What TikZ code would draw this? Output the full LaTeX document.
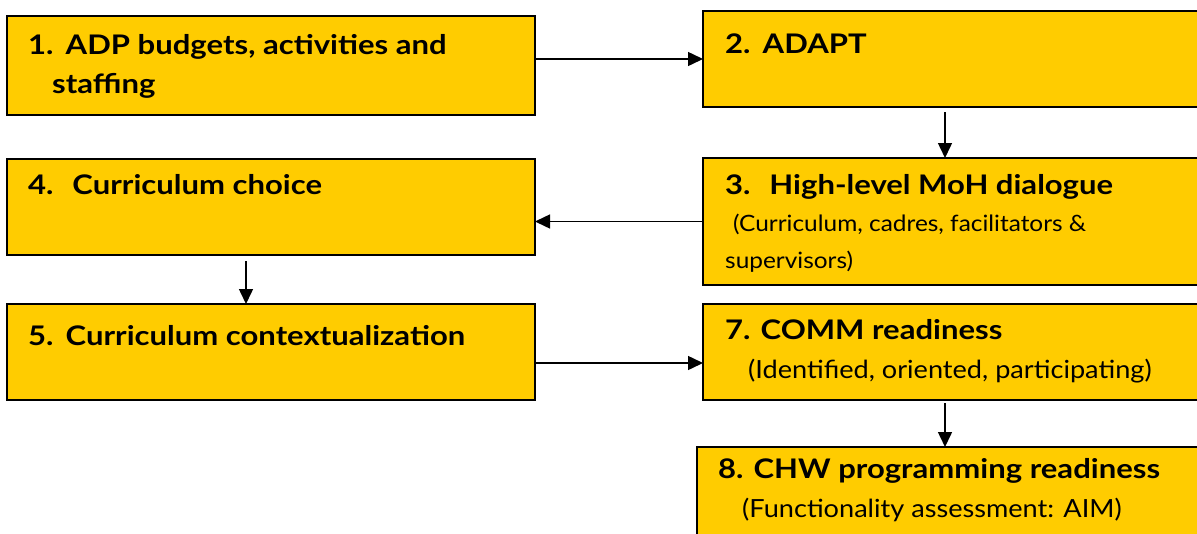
\documentclass[tikz,border=0pt]{standalone}
\usepackage{fontspec}
\setmainfont{Lato}[UprightFeatures={FakeStretch=1.085}, BoldFeatures={FakeStretch=1.15}]
\usetikzlibrary{arrows.meta}
\definecolor{boxyellow}{HTML}{FFCC00}
\tikzset{
  x=1pt, y=-1pt,
  box/.style={draw=black, line width=2pt, fill=boxyellow, inner sep=0pt, outer sep=0pt, anchor=north west},
  label/.style={anchor=base west, inner sep=0pt, font=\fontsize{25}{30}\selectfont},
  smalllabel/.style={label, font=\fontsize{22.5}{27}\selectfont},
  boldlabel/.style={label, font=\fontsize{27}{32}\selectfont\bfseries},
  arr/.style={-{Triangle[length=15pt,width=14pt]}, line width=1.5pt},
}
\begin{document}
\begin{tikzpicture}
\useasboundingbox[fill=white] (0,0) rectangle (1197,533);

% left column
\node[box, minimum width=528pt, minimum height=99pt] (b1) at (7,16) {};
\node[box, minimum width=528pt, minimum height=96pt] (b4) at (7,159) {};
\node[box, minimum width=528pt, minimum height=96pt] (b5) at (7,304) {};

% right column (runs past the right edge)
\node[box, minimum width=510pt, minimum height=96pt] (b2) at (703,11) {};
\node[box, minimum width=510pt, minimum height=127pt] (b3) at (703,158) {};
\node[box, minimum width=510pt, minimum height=96pt] (b7) at (703,304) {};
\node[box, minimum width=516pt, minimum height=100pt] (b8) at (697,447) {};

% texts
\node[boldlabel] (t1a) at (28,54) {1.\hspace{0.45em}ADP budgets, activities and};
\node[boldlabel] (t1b) at (52,93) {staffing};
\node[boldlabel] (t2) at (725,53) {2.\hspace{0.45em}ADAPT};
\node[boldlabel] (t3a) at (725,194) {3.\hspace{0.7em}High-level MoH dialogue};
\node[smalllabel] (t3b) at (733,231) {(Curriculum, cadres, facilitators \&};
\node[smalllabel] (t3c) at (725,268) {supervisors)};
\node[boldlabel] (t4) at (28,194) {4.\hspace{0.7em}Curriculum choice};
\node[boldlabel] (t5) at (28,345) {5.\hspace{0.45em}Curriculum contextualization};
\node[boldlabel] (t7a) at (725,339) {7. COMM readiness};
\node[label] (t7b) at (748,378) {(Identified, oriented, participating)};
\node[boldlabel] (t8a) at (718,478) {8. CHW programming readiness};
\node[label] (t8b) at (742,517) {(Functionality assessment: AIM)};

% connectors
\draw[arr] (b1.east |- b2.west) -- (b2.west);
\draw[arr] ([shift={(242,5)}]b2.south west) -- ([xshift=242pt]b3.north west);
\draw[arr] (b3.west) -- (b3.west -| b4.east);
\draw[arr] ([shift={(239,6)}]b4.south west) -- ([xshift=239pt]b5.north west);
\draw[arr] ([yshift=-11pt]b5.east) -- ([yshift=-11pt]b7.west);
\draw[arr] ([shift={(242,3)}]b7.south west) -- ([xshift=248pt]b8.north west);
\end{tikzpicture}
\end{document}
